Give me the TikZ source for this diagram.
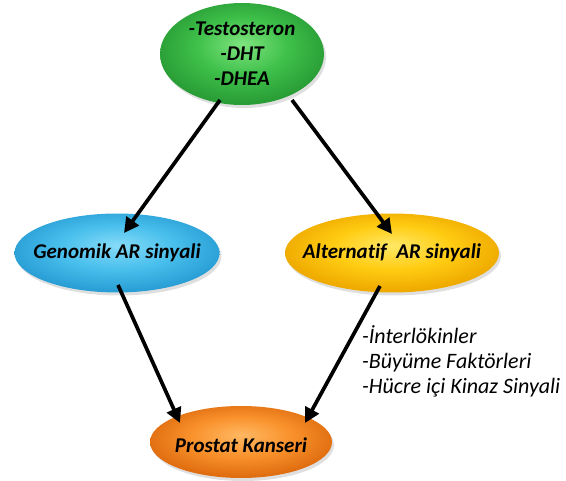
\documentclass[tikz,border=0pt]{standalone}
\usepackage{fontspec}
\setmainfont[Ligatures=NoCommon]{Carlito}
\usetikzlibrary{shapes.geometric,arrows.meta,shadows}
\definecolor{gA}{HTML}{7FE47F}
\definecolor{gB}{HTML}{3EC04A}
\definecolor{gC}{HTML}{2A9E36}
\definecolor{bA}{HTML}{86DBF8}
\definecolor{bB}{HTML}{48BFEC}
\definecolor{bC}{HTML}{2A9FD6}
\definecolor{yA}{HTML}{FFE866}
\definecolor{yB}{HTML}{FFCC12}
\definecolor{yC}{HTML}{EFAA00}
\definecolor{oA}{HTML}{FFB862}
\definecolor{oB}{HTML}{F9912B}
\definecolor{oC}{HTML}{E06E10}
\pgfdeclareradialshading{gshade}{\pgfpoint{0bp}{5bp}}{color(0bp)=(gA); color(14bp)=(gB); color(26bp)=(gC); color(50bp)=(gC)}
\pgfdeclareradialshading{bshade}{\pgfpoint{0bp}{5bp}}{color(0bp)=(bA); color(14bp)=(bB); color(26bp)=(bC); color(50bp)=(bC)}
\pgfdeclareradialshading{yshade}{\pgfpoint{0bp}{5bp}}{color(0bp)=(yA); color(14bp)=(yB); color(26bp)=(yC); color(50bp)=(yC)}
\pgfdeclareradialshading{oshade}{\pgfpoint{0bp}{5bp}}{color(0bp)=(oA); color(14bp)=(oB); color(26bp)=(oC); color(50bp)=(oC)}
\newcommand{\ovaltext}[2]{\makebox[0pt]{\raisebox{#1}[0pt][0pt]{#2}}}
\begin{document}
\begin{tikzpicture}[x=1pt,y=-1pt,
  oval/.style={ellipse, inner sep=0pt,
    drop shadow={opacity=0.25,shadow xshift=2pt,shadow yshift=-3pt},
    font=\fontsize{21}{25}\selectfont\bfseries\itshape},
  conn/.style={line width=3.7pt, -{Triangle[length=15pt,width=15pt]}},
  note/.style={font=\fontsize{22}{25}\selectfont\itshape, align=left, inner sep=0pt}]
\useasboundingbox (0,0) rectangle (566,481);
\node[oval, shading=gshade, minimum width=164pt, minimum height=102pt, align=center] (top) at (242,54) {-Testosteron\\-DHT\\-DHEA};
\node[oval, shading=bshade, minimum width=205pt, minimum height=79pt] (gen) at (117,253) {\ovaltext{-6pt}{Genomik AR sinyali}};
\node[oval, shading=yshade, minimum width=214pt, minimum height=79pt] (alt) at (392,253) {\ovaltext{-6pt}{Alternatif\ \ AR sinyali}};
\node[oval, shading=oshade, minimum width=182pt, minimum height=72pt] (pk) at (241,442) {\ovaltext{-11pt}{Prostat Kanseri}};
\node[note, anchor=north west] (lbl) at (362,325) {-İnterlökinler\\-Büyüme Faktörleri\\-Hücre içi Kinaz Sinyali};
\draw[conn] ([shift={(-22,46)}]top.center) -- ([shift={(7,-20)}]gen.center);
\draw[conn] ([shift={(50,46)}]top.center) -- ([shift={(0,-19)}]alt.center);
\draw[conn] ([shift={(1,32)}]gen.center) -- ([shift={(-61,-19)}]pk.center);
\draw[conn] ([shift={(-12,33)}]alt.center) -- ([shift={(64,-19)}]pk.center);
\end{tikzpicture}
\end{document}
